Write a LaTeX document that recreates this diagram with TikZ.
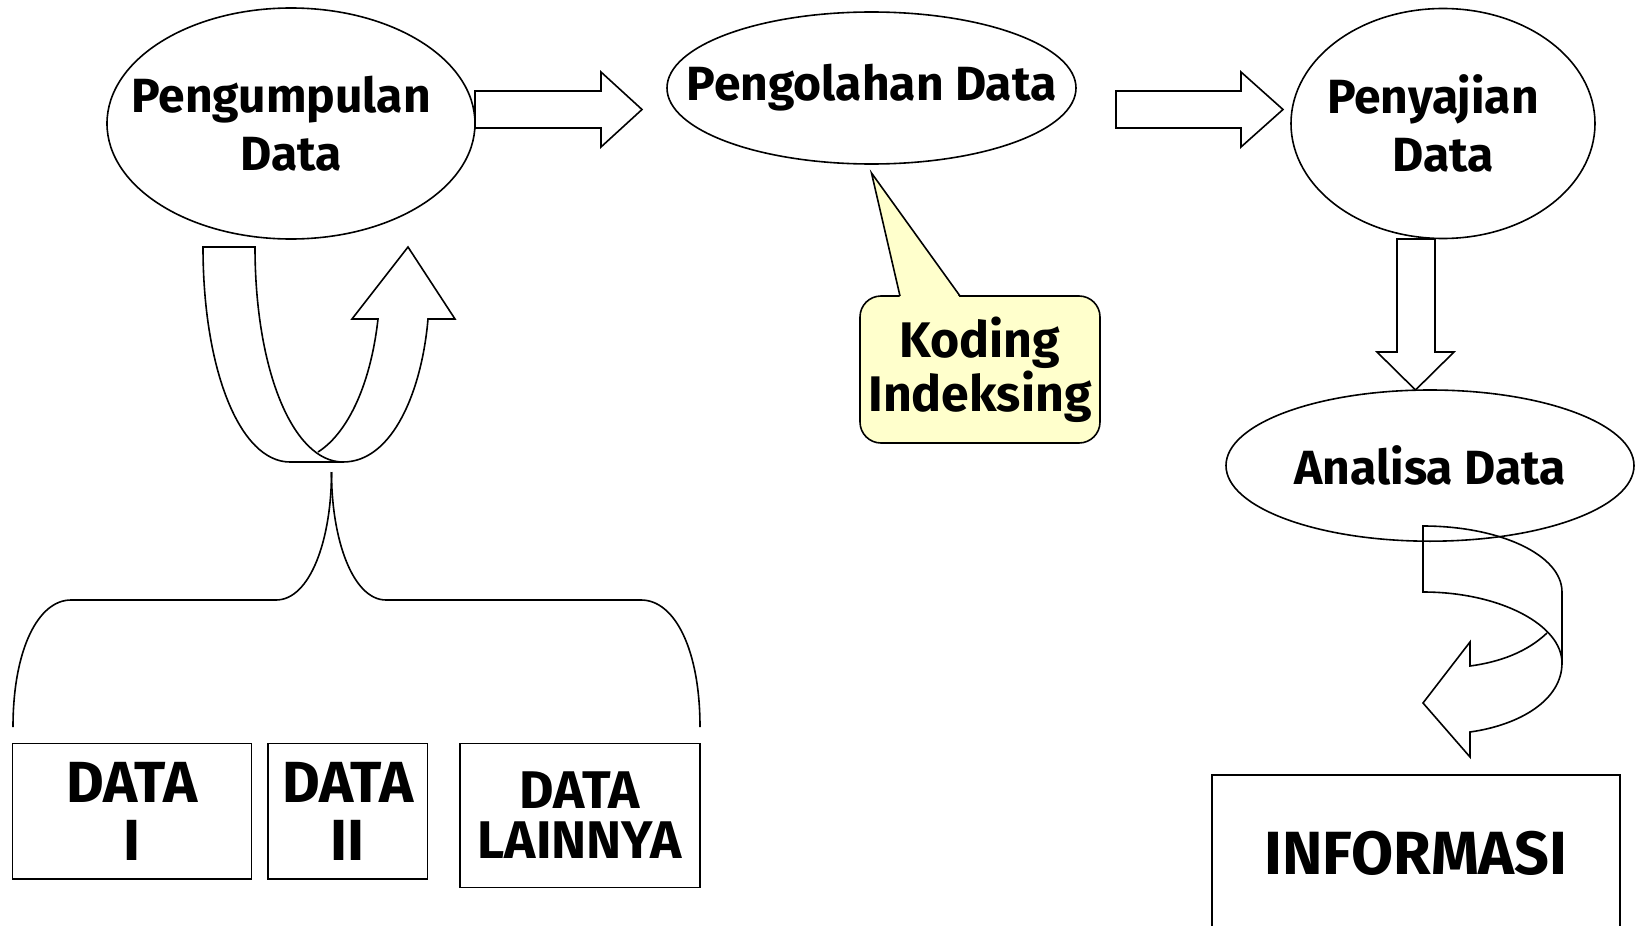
\documentclass[tikz,border=0pt]{standalone}
\usepackage{fontspec}
\setmainfont{Fira Sans}
\usetikzlibrary{shapes.geometric}
\definecolor{notefill}{RGB}{255,255,204}
\newcommand{\zw}[1]{\makebox[0pt]{#1}}
\begin{document}
\begin{tikzpicture}[x=0.5pt, y=-0.5pt, line width=0.8pt, line join=miter,
  bubble/.style={draw, ellipse, inner sep=0pt, align=center,
    font=\bfseries\fontsize{24}{29}\selectfont},
  databox/.style={draw, rectangle, inner sep=0pt, align=center,
    font=\bfseries\fontsize{29}{29}\selectfont},
  notebox/.style={draw, fill=notefill, rectangle, rounded corners=10.5pt,
    inner sep=0pt, align=center, font=\bfseries\fontsize{25}{25}\selectfont},
  blk/.style={draw, fill=white}]
\useasboundingbox (0,0) rectangle (1635,926);
\clip (0,0) rectangle (1635,926);

% main process ellipses (text kept zero-width so the outline keeps its size)
\node[bubble, minimum width=184pt, minimum height=115.5pt] (collect) at (291,123.5) {\zw{\hspace*{-10pt}Pengumpulan}\\\zw{Data}};
\node[bubble, minimum width=204.5pt, minimum height=76pt] (process) at (871.5,88) {\zw{Pengolahan Data}};
\node[bubble, minimum width=152pt, minimum height=115pt] (present) at (1443,123.5) {\zw{\hspace*{-10pt}Penyajian}\\\zw{Data}};
\node[bubble, minimum width=204pt, minimum height=75.6pt] (analyse) at (1430,465.6) {\zw{Analisa Data}};

% block arrows between the stages
\draw[blk] (475,91) -- (601,91) -- (601,72) -- (642,109.5) -- (601,147) -- (601,128) -- (475,128) -- cycle;
\draw[blk] (1116,91) -- (1241,91) -- (1241,72) -- (1283,109.5) -- (1241,147) -- (1241,128) -- (1116,128) -- cycle;
\draw[blk] (1397,239) -- (1435,239) -- (1435,352) -- (1454,352) -- (1415.5,390) -- (1377,352) -- (1397,352) -- cycle;

% note attached to the processing stage
\node[notebox, minimum width=120pt, minimum height=73.5pt] (note) at (980,369.5) {Koding\\Indeksing};
\coordinate (notetip) at (871.5,173);
\fill[notefill] (900,298) -- (notetip) -- (960,298) -- cycle;
\draw (900,296) -- (notetip) -- (960,296);

% U-turn arrow below the collecting stage
\draw (203,247) -- (255,247) .. controls (255,370) and (293,462) .. (343,462)
  -- (290,462) .. controls (240,462) and (203,370) .. (203,247) -- cycle;
\draw (343,462) .. controls (393,462) and (422,390) .. (428,319) -- (455,319)
  -- (408,247) -- (352,319) -- (378,319) .. controls (370,390) and (345,435) .. (318,452);

% brace gathering the data sources
\coordinate (bracetip) at (331.5,472);
\draw (13,727) .. controls (13,650) and (38,600) .. (71,600) -- (276,600)
  .. controls (310,600) and (331.5,540) .. (bracetip);
\draw (bracetip) .. controls (331.5,540) and (353,600) .. (386,600) -- (641,600)
  .. controls (675,600) and (700,650) .. (700,727);

% data sources
\node[databox, minimum width=119.4pt, minimum height=67.8pt] (d1) at (132,811.2) {DATA\\I};
\node[databox, minimum width=79.75pt, minimum height=67.8pt] (d2) at (347.8,811.2) {DATA\\II};
\node[databox, minimum width=120pt, minimum height=72pt,
  font=\bfseries\fontsize{26.5}{25}\selectfont] (d3) at (579.7,815.4) {DATA\\LAINNYA};

% curved arrow from analysis down to the result
\draw (1423,526) .. controls (1500,526) and (1562,555) .. (1562,592) -- (1562,663)
  .. controls (1562,625) and (1500,592) .. (1423,592) -- cycle;
\draw (1547,633) .. controls (1527,652) and (1500,662) .. (1470,666) -- (1470,642)
  -- (1423,703) -- (1470,757) -- (1470,732) .. controls (1520,725) and (1562,700) .. (1562,663);

% result
\node[draw, rectangle, inner sep=0pt, minimum width=204pt, minimum height=78pt,
  font=\bfseries\fontsize{30.5}{30}\selectfont] (info) at (1416,853) {INFORMASI};
\end{tikzpicture}
\end{document}
